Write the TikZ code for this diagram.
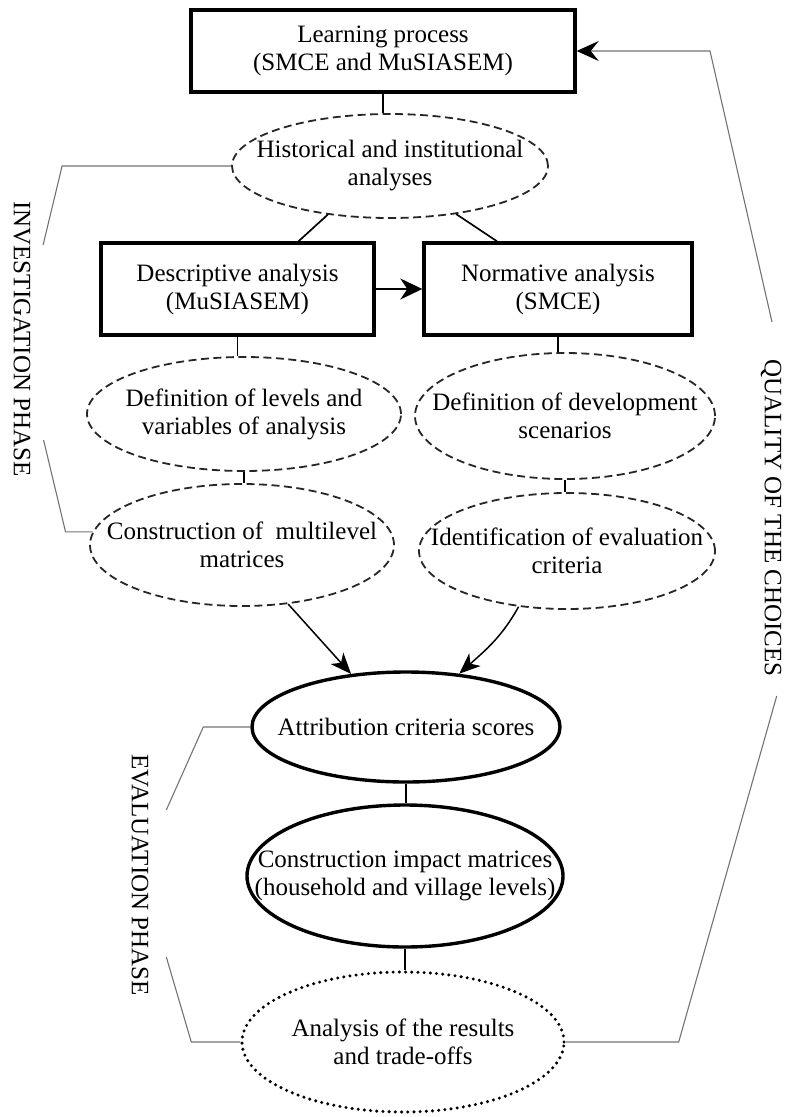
\documentclass[tikz,border=0pt]{standalone}
\usepackage{fontspec}
\setmainfont{Liberation Serif}
\usetikzlibrary{shapes.geometric,arrows.meta}

\begin{document}
\begin{tikzpicture}[x=1pt,y=-1pt,
  every node/.style={font=\fontsize{25}{28}\selectfont, align=center},
  box/.style={draw, line width=3.4pt, rectangle, inner sep=0pt},
  dashell/.style={ellipse, draw=black!85, line width=1.8pt, dash pattern=on 8pt off 4.5pt, inner sep=-60pt},
  thickell/.style={ellipse, draw, line width=3.4pt, inner sep=-60pt},
  dotell/.style={ellipse, draw, line width=3.4pt, dash pattern=on 0pt off 6.2pt, line cap=round, inner sep=-60pt},
  link/.style={draw, line width=1.7pt},
  arrowlink/.style={draw, line width=1.7pt, -{Stealth[length=22pt,width=21pt,inset=7pt]}},
  convlink/.style={draw, line width=1.5pt, -{Stealth[length=21pt,width=17pt,inset=6pt]}},
  bracket/.style={draw=black!55, line width=1.1pt},
  phase/.style={rotate=-90, inner sep=0pt},
]
\useasboundingbox (0,0) rectangle (787,1117);

% boxes and ellipses of the procedure
\node[box, minimum width=384pt, minimum height=82pt] (learn) at (383,51) {Learning process\\(SMCE and MuSIASEM)};
\node[dashell, minimum width=316pt, minimum height=104pt] (hist) at (390,166) {Historical and institutional\\analyses};
\node[box, minimum width=273pt, minimum height=92pt] (desc) at (237.5,289) {Descriptive analysis\\(MuSIASEM)};
\node[box, minimum width=268pt, minimum height=92pt] (norm) at (558,289) {Normative analysis\\(SMCE)};
\node[dashell, minimum width=314pt, minimum height=114pt] (levels) at (244,414) {Definition of levels and\\variables of analysis};
\node[dashell, minimum width=300pt, minimum height=126pt] (scen) at (565,416) {Definition of development\\scenarios};
\node[dashell, minimum width=304pt, minimum height=122pt] (matr) at (242,545) {Construction of~ multilevel\\matrices};
\node[dashell, minimum width=296pt, minimum height=116pt] (crit) at (567,551) {Identification of evaluation\\criteria};
\node[thickell, minimum width=308pt, minimum height=110pt] (score) at (406,727) {Attribution criteria scores};
\node[thickell, minimum width=316pt, minimum height=142pt] (impact) at (405,876) {Construction impact matrices\\(household and village levels)};
\node[dotell, minimum width=322pt, minimum height=140pt] (result) at (403,1042) {Analysis of the results\\and trade-offs};

% phase labels
\node[phase] (inv) at (22,339) {INVESTIGATION PHASE};
\node[phase] (qual) at (771,518) {QUALITY OF THE CHOICES};
\node[phase] (eval) at (140,875) {EVALUATION PHASE};

% connectors
\draw[link] (learn.south) -- (learn.south |- hist.north);
\draw[link] (hist.218) -- ([xshift=61pt]desc.north);
\draw[link] (hist.324) -- ([xshift=-61pt]norm.north);
\draw[arrowlink] (desc.east) -- (norm.west);
\draw[link] (desc.south) -- (desc.south |- levels.north);
\draw[link] (norm.south) -- (norm.south |- scen.north);
\draw[link] (levels.south) -- (levels.south |- matr.north);
\draw[link] (scen.south) -- (scen.south |- crit.north);
\draw[convlink] (matr.308) -- (score.136);
\draw[convlink] (crit.229) to[out=241,in=42] (score.45);
\draw[link] (score.south) -- (score.south |- impact.north);
\draw[link] (impact.south) -- (impact.south |- result.north);

% phase brackets
\draw[bracket] (hist.west) -- ++(-169,0) -- ++(-19,79);
\draw[bracket] (matr.175) -- ++(-27,0) -- ++(-22,-92);
\draw[bracket] (score.west) -- ++(-47,0) -- ++(-37,83);
\draw[bracket] (result.west) -- ++(-49,0) -- ++(-25,-85);

% feedback line of the quality of the choices
\draw[bracket] (result.east) -- ++(113,0) -- ++(98,-346);
\coordinate (qtop) at (772,322);
\draw[bracket, -{Stealth[length=22pt,width=20pt,inset=8pt,color=black]}] (qtop) -- ++(-62,-271) -- (learn.east);
\end{tikzpicture}
\end{document}
